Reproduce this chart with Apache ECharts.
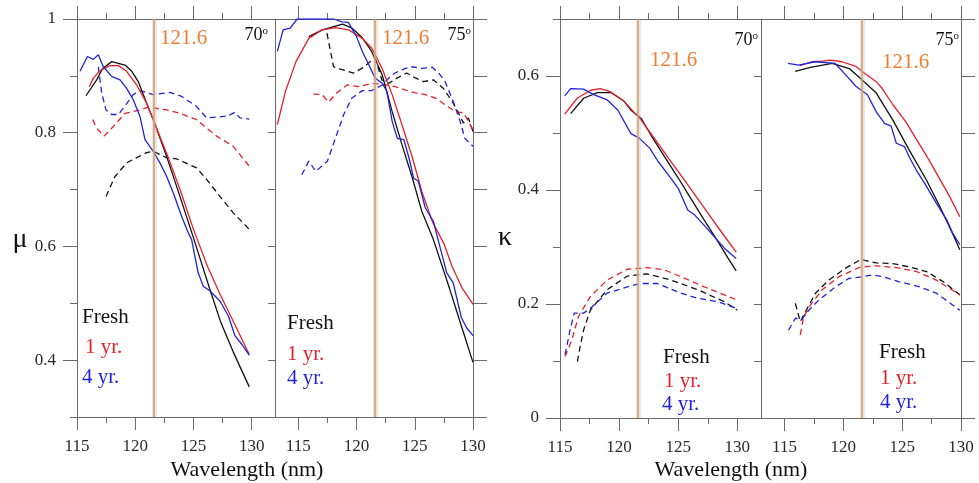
<!DOCTYPE html>
<html><head><meta charset="utf-8">
<script src="https://cdn.jsdelivr.net/npm/echarts@6/dist/echarts.min.js"></script>
<style>html,body{margin:0;padding:0;background:#fff}#c{width:979px;height:483px}</style>
</head><body><div id="c"></div>
<script>
// ---------- tick values ----------
const wavelengthTicksMajor = [115, 120, 125, 130];
const wavelengthTicksMinor = [117.5, 122.5, 127.5];
const muTicksMajor = [0.4, 0.6, 0.8, 1.0];
const muTicksMinor = [0.3, 0.5, 0.7, 0.9];
const kappaTicksMajor = [0, 0.2, 0.4, 0.6];
const kappaTicksMinor = [0.1, 0.3, 0.5, 0.7];
const markerWavelength = 121.6;
const legendLabels = ['Fresh', '1 yr.', '4 yr.'];
const angleLabels = ['70', '75'];

// ---------- mu, 70 deg ----------
const mu70FreshSolid = [[115.77,0.865],[116.69,0.893],[117.2,0.913],[117.98,0.925],[119.12,0.919],[119.7,0.908],[120.26,0.89],[120.98,0.852],[121.55,0.823],[122.7,0.758],[123.84,0.688],[125.0,0.615],[126.4,0.525],[127.3,0.469],[128.4,0.415],[129.79,0.353]];
const mu70OneYrSolid = [[116.06,0.881],[116.4,0.896],[116.97,0.909],[117.83,0.918],[118.55,0.918],[119.26,0.908],[120.12,0.884],[120.98,0.852],[121.6,0.82],[122.75,0.761],[123.9,0.697],[125.0,0.63],[126.2,0.565],[127.3,0.515],[128.5,0.465],[129.79,0.41]];
const mu70FourYrSolid = [[115.26,0.908],[115.9,0.934],[116.4,0.929],[116.83,0.937],[117.26,0.916],[117.98,0.899],[118.7,0.893],[119.26,0.878],[119.83,0.858],[120.4,0.829],[120.84,0.788],[121.55,0.767],[122.12,0.747],[122.7,0.723],[123.27,0.694],[123.98,0.653],[124.55,0.624],[124.84,0.612],[125.4,0.554],[125.84,0.53],[126.4,0.522],[127.27,0.504],[127.99,0.478],[128.56,0.443],[129.14,0.428],[129.79,0.409]];
const mu70FreshDashed = [[117.49,0.688],[118.26,0.723],[119.26,0.747],[120.98,0.765],[121.55,0.767],[122.7,0.756],[123.56,0.754],[125.27,0.738],[126.13,0.718],[127.27,0.688],[128.42,0.659],[129.79,0.63]];
const mu70OneYrDashed = [[116.35,0.823],[116.69,0.808],[117.32,0.794],[118.12,0.811],[119.12,0.834],[120.41,0.84],[121.12,0.845],[122.7,0.84],[123.84,0.834],[125.27,0.823],[126.13,0.808],[126.99,0.794],[128.42,0.776],[129.79,0.741]];
const mu70FourYrDashed = [[116.83,0.916],[117.12,0.87],[117.49,0.84],[117.98,0.832],[118.55,0.832],[119.12,0.847],[119.83,0.867],[120.41,0.874],[121.55,0.867],[122.98,0.871],[123.98,0.864],[125.27,0.846],[126.13,0.826],[127.27,0.828],[127.99,0.83],[128.56,0.836],[128.99,0.826],[129.79,0.824]];

// ---------- mu, 75 deg ----------
const mu75FreshSolid = [[115.9,0.969],[117.06,0.981],[118.8,0.991],[119.6,0.984],[120.5,0.967],[121.3,0.943],[122.2,0.902],[123.06,0.837],[123.9,0.779],[124.8,0.72],[125.6,0.662],[126.6,0.612],[128.0,0.525],[129.0,0.46],[130.0,0.396]];
const mu75OneYrSolid = [[113.2,0.814],[113.9,0.873],[114.8,0.925],[115.9,0.966],[117.06,0.981],[118.2,0.985],[119.3,0.981],[120.5,0.966],[121.3,0.949],[122.2,0.913],[123.06,0.867],[123.9,0.814],[124.8,0.756],[125.6,0.697],[126.5,0.644],[127.5,0.605],[128.2,0.565],[129.06,0.527],[130.0,0.498]];
const mu75FourYrSolid = [[113.2,0.943],[113.7,0.981],[114.3,0.984],[114.9,1.0],[118.03,1.0],[118.74,0.995],[119.3,0.994],[120.0,0.969],[120.5,0.943],[121.06,0.919],[121.6,0.896],[122.2,0.887],[122.6,0.873],[123.06,0.82],[123.5,0.79],[124.06,0.788],[124.5,0.756],[124.9,0.72],[125.3,0.715],[125.9,0.668],[126.6,0.644],[127.0,0.612],[127.74,0.554],[128.3,0.536],[129.0,0.475],[129.45,0.457],[130.0,0.443]];
const mu75FreshDashed = [[117.46,0.975],[118.03,0.916],[118.6,0.912],[119.74,0.905],[120.6,0.915],[121.17,0.925],[121.6,0.931],[121.88,0.913],[122.17,0.893],[122.8,0.887],[123.46,0.896],[124.3,0.905],[125.0,0.897],[125.74,0.89],[126.6,0.893],[127.45,0.878],[128.3,0.852],[128.9,0.829],[129.17,0.817],[129.6,0.826],[130.0,0.802]];
const mu75OneYrDashed = [[116.3,0.868],[117.06,0.867],[117.6,0.854],[118.3,0.87],[119.2,0.884],[120.2,0.881],[121.3,0.887],[122.5,0.884],[123.3,0.881],[124.2,0.875],[125.06,0.87],[125.9,0.867],[126.8,0.861],[127.6,0.849],[128.5,0.837],[129.2,0.835],[130.0,0.805]];
const mu75FourYrDashed = [[115.3,0.726],[115.9,0.75],[116.5,0.732],[117.5,0.75],[118.2,0.791],[118.9,0.832],[119.6,0.861],[120.5,0.874],[121.3,0.874],[122.2,0.884],[122.6,0.893],[123.3,0.905],[124.2,0.913],[124.8,0.916],[125.6,0.913],[126.5,0.915],[127.06,0.905],[127.6,0.89],[128.3,0.855],[128.9,0.82],[129.3,0.79],[130.0,0.776]];

// ---------- kappa, 70 deg ----------
const kappa70FreshSolid = [[115.9,0.534],[117.0,0.561],[118.15,0.571],[119.3,0.571],[120.4,0.556],[121.0,0.54],[121.85,0.526],[122.7,0.496],[123.8,0.46],[125.0,0.421],[126.1,0.384],[127.2,0.347],[128.4,0.308],[129.2,0.281],[129.9,0.258]];
const kappa70OneYrSolid = [[115.4,0.533],[116.45,0.561],[117.6,0.575],[118.4,0.578],[119.3,0.572],[120.4,0.556],[121.85,0.523],[123.0,0.49],[124.2,0.455],[125.3,0.424],[126.4,0.392],[127.5,0.36],[128.7,0.325],[129.9,0.291]];
const kappa70FourYrSolid = [[115.4,0.565],[115.9,0.578],[117.0,0.577],[117.9,0.567],[119.0,0.558],[119.9,0.54],[121.0,0.499],[121.7,0.491],[122.6,0.473],[123.3,0.45],[124.4,0.42],[125.0,0.403],[125.8,0.365],[126.4,0.356],[127.2,0.338],[128.1,0.317],[128.9,0.298],[129.9,0.28]];
const kappa70FreshDashed = [[116.47,0.099],[116.7,0.125],[116.99,0.154],[117.56,0.189],[118.98,0.225],[120.69,0.249],[122.39,0.253],[124.38,0.242],[126.65,0.225],[128.9,0.204],[130.0,0.189]];
const kappa70OneYrDashed = [[115.43,0.108],[116.0,0.137],[116.56,0.178],[117.56,0.213],[118.98,0.242],[120.69,0.261],[122.39,0.264],[123.8,0.26],[125.23,0.248],[127.2,0.23],[128.9,0.216],[130.0,0.207]];
const kappa70FourYrDashed = [[115.43,0.111],[115.85,0.154],[116.2,0.184],[116.99,0.184],[117.56,0.192],[118.98,0.219],[120.69,0.23],[121.82,0.236],[123.24,0.236],[125.23,0.219],[126.65,0.21],[128.36,0.204],[130.0,0.192]];

// ---------- kappa, 75 deg ----------
const kappa75FreshSolid = [[115.9,0.608],[117.2,0.615],[119.05,0.622],[120.5,0.613],[121.6,0.593],[122.8,0.57],[124.2,0.523],[125.6,0.47],[127.05,0.418],[128.2,0.371],[129.34,0.321],[129.9,0.295]];
const kappa75OneYrSolid = [[116.3,0.618],[117.3,0.625],[118.2,0.626],[118.9,0.628],[119.9,0.625],[121.06,0.617],[121.6,0.608],[122.8,0.59],[123.3,0.578],[124.2,0.55],[125.3,0.52],[127.3,0.452],[129.05,0.388],[129.9,0.353]];
const kappa75FourYrSolid = [[115.3,0.622],[116.2,0.619],[117.6,0.625],[119.3,0.622],[120.2,0.602],[121.06,0.582],[122.05,0.567],[122.8,0.537],[123.5,0.517],[124.06,0.512],[124.5,0.482],[125.2,0.476],[125.6,0.458],[126.2,0.435],[126.9,0.412],[127.9,0.377],[128.8,0.347],[129.3,0.324],[129.9,0.304]];
const kappa75FreshDashed = [[115.92,0.201],[116.34,0.169],[116.77,0.186],[117.63,0.219],[118.77,0.242],[120.2,0.263],[121.49,0.278],[122.77,0.272],[124.2,0.271],[125.6,0.265],[127.06,0.257],[128.5,0.239],[129.9,0.216]];
const kappa75OneYrDashed = [[116.34,0.146],[116.63,0.178],[117.2,0.198],[118.2,0.225],[119.63,0.248],[121.34,0.264],[122.77,0.267],[124.49,0.264],[126.2,0.257],[127.9,0.242],[129.9,0.216]];
const kappa75FourYrDashed = [[115.34,0.154],[115.92,0.175],[116.48,0.173],[117.06,0.189],[117.91,0.207],[119.34,0.23],[120.48,0.245],[121.63,0.248],[122.48,0.251],[123.34,0.248],[124.77,0.239],[126.48,0.23],[127.91,0.219],[129.9,0.189]];

// ---------- layout ----------
const FONT = 'Liberation Serif';
const AX = '#6a6a6a';
const COLORS = ['#111111', '#e5202a', '#2222dd'];
const panels = [
  { grid:{left:77, top:19, width:198, height:398}, x:[115,132], y:[0.3,1.0], yMaj:muTicksMajor, yMin:muTicksMinor, first:true,
    solid:[mu70FreshSolid, mu70OneYrSolid, mu70FourYrSolid], dashed:[mu70FreshDashed, mu70OneYrDashed, mu70FourYrDashed] },
  { grid:{left:275, top:19, width:198, height:398}, x:[113,130], y:[0.3,1.0], yMaj:muTicksMajor, yMin:muTicksMinor, first:false,
    solid:[mu75FreshSolid, mu75OneYrSolid, mu75FourYrSolid], dashed:[mu75FreshDashed, mu75OneYrDashed, mu75FourYrDashed] },
  { grid:{left:560, top:19, width:201, height:399}, x:[115,132], y:[0,0.7], yMaj:kappaTicksMajor, yMin:kappaTicksMinor, first:true,
    solid:[kappa70FreshSolid, kappa70OneYrSolid, kappa70FourYrSolid], dashed:[kappa70FreshDashed, kappa70OneYrDashed, kappa70FourYrDashed] },
  { grid:{left:761, top:19, width:200, height:399}, x:[113,130], y:[0,0.7], yMaj:kappaTicksMajor, yMin:kappaTicksMinor, first:false,
    solid:[kappa75FreshSolid, kappa75OneYrSolid, kappa75FourYrSolid], dashed:[kappa75FreshDashed, kappa75OneYrDashed, kappa75FourYrDashed] }
];

const grids = [], xAxes = [], yAxes = [], series = [];
const labelStyle = { color:'#2a2a2a', fontFamily:FONT, fontSize:17 };
function addX(g, p, pos, vals, len, label, line) {
  xAxes.push({ type:'value', gridIndex:g, position:pos, min:p.x[0], max:p.x[1], interval:0.5,
    axisLine:{show:line, lineStyle:{color:AX, width:1}},
    axisTick:{show:true, inside:false, length:len, customValues:vals, lineStyle:{color:AX, width:1}},
    axisLabel:Object.assign({show:label, customValues:vals, margin:21}, labelStyle),
    splitLine:{show:false} });
  return xAxes.length - 1;
}
function addY(g, p, pos, vals, len, label, line) {
  yAxes.push({ type:'value', gridIndex:g, position:pos, min:p.y[0], max:p.y[1], interval:0.1,
    axisLine:{show:line, lineStyle:{color:AX, width:1}},
    axisTick:{show:true, inside:false, length:len, customValues:vals, lineStyle:{color:AX, width:1}},
    axisLabel:Object.assign({show:label, customValues:vals, margin:21,
      formatter: v => String(Math.round(v * 10) / 10)}, labelStyle),
    splitLine:{show:false} });
  return yAxes.length - 1;
}

panels.forEach((p, g) => {
  grids.push(Object.assign({containLabel:false}, p.grid));
  const xi = addX(g, p, 'bottom', wavelengthTicksMajor, 13, true, true);
  addX(g, p, 'bottom', wavelengthTicksMinor, 6, false, false);
  addX(g, p, 'top', wavelengthTicksMajor, 13, false, true);
  addX(g, p, 'top', wavelengthTicksMinor, 6, false, false);
  let yi;
  const allTenths = p.yMaj.concat(p.yMin);
  if (p.first) {
    yi = addY(g, p, 'left', p.yMaj, 14, true, true);
    addY(g, p, 'left', p.yMin, 7, false, false);
  } else {
    yi = addY(g, p, 'left', allTenths, 7, false, true);
    addY(g, p, 'right', allTenths, 14, false, true);
  }
  p.dashed.forEach((d, k) => series.push({ type:'line', xAxisIndex:xi, yAxisIndex:yi, data:d, showSymbol:false, symbol:'none',
    lineStyle:{color:COLORS[k], width:1.3, type:[6,4]}, z:3 }));
  p.solid.forEach((d, k) => series.push({ type:'line', xAxisIndex:xi, yAxisIndex:yi, data:d, showSymbol:false, symbol:'none',
    lineStyle:{color:COLORS[k], width:1.3}, z:4 }));
  series.push({ type:'line', xAxisIndex:xi, yAxisIndex:yi, data:[], z:2,
    markLine:{ silent:true, symbol:'none', label:{show:false}, animation:false,
      data:[ {xAxis:markerWavelength, lineStyle:{color:'rgba(175,175,175,0.3)', width:5, type:'solid'}},
             {xAxis:markerWavelength, lineStyle:{color:'#dca167', width:1.6, type:'solid'}} ] } });
});

// ---------- text annotations ----------
const ORANGE = '#ee7d32';
function txt(x, y, text, size, fill, align) {
  return { type:'text', x:x, y:y, z:10, style:{ text:text, fill:fill, font:size + 'px "' + FONT + '"', align:align || 'left', verticalAlign:'middle' } };
}
function angle(xRight, y, a) {
  return { type:'text', x:xRight, y:y, z:10, style:{ text:'{a|' + a + '}{o|o}', align:'right', verticalAlign:'middle',
    rich:{ a:{ fontFamily:FONT, fontSize:18, fill:'#111', lineHeight:18 }, o:{ fontFamily:FONT, fontSize:11, fill:'#111', verticalAlign:'top', lineHeight:18 } } } };
}
const legendPos = [
  [[82,317],[85,347],[82,377]],
  [[287,323],[287,354],[287,378]],
  [[663,357],[664,381],[662,404]],
  [[879,352],[880,378],[880,402]]
];
const graphics = [];
legendPos.forEach(pp => pp.forEach((q, k) => graphics.push(txt(q[0], q[1], legendLabels[k], 21, COLORS[k]))));
graphics.push(txt(160, 38, String(markerWavelength), 21, ORANGE));
graphics.push(txt(382, 38, String(markerWavelength), 21, ORANGE));
graphics.push(txt(650, 60, String(markerWavelength), 21, ORANGE));
graphics.push(txt(882, 62, String(markerWavelength), 21, ORANGE));
graphics.push(angle(268, 35, angleLabels[0]));
graphics.push(angle(471, 35, angleLabels[1]));
graphics.push(angle(758, 40, angleLabels[0]));
graphics.push(angle(959, 40, angleLabels[1]));
graphics.push(txt(247, 470, 'Wavelength (nm)', 22, '#111', 'center'));
graphics.push(txt(731, 470, 'Wavelength (nm)', 22, '#111', 'center'));
graphics.push(txt(20, 240, 'μ', 28, '#111', 'center'));
graphics.push(txt(505, 238, 'κ', 28, '#111', 'center'));

const chart = echarts.init(document.getElementById('c'), null, {renderer:'canvas'});
chart.setOption({ animation:false, backgroundColor:'#ffffff', grid:grids, xAxis:xAxes, yAxis:yAxes, series:series, graphic:graphics });
</script>
</body></html>
